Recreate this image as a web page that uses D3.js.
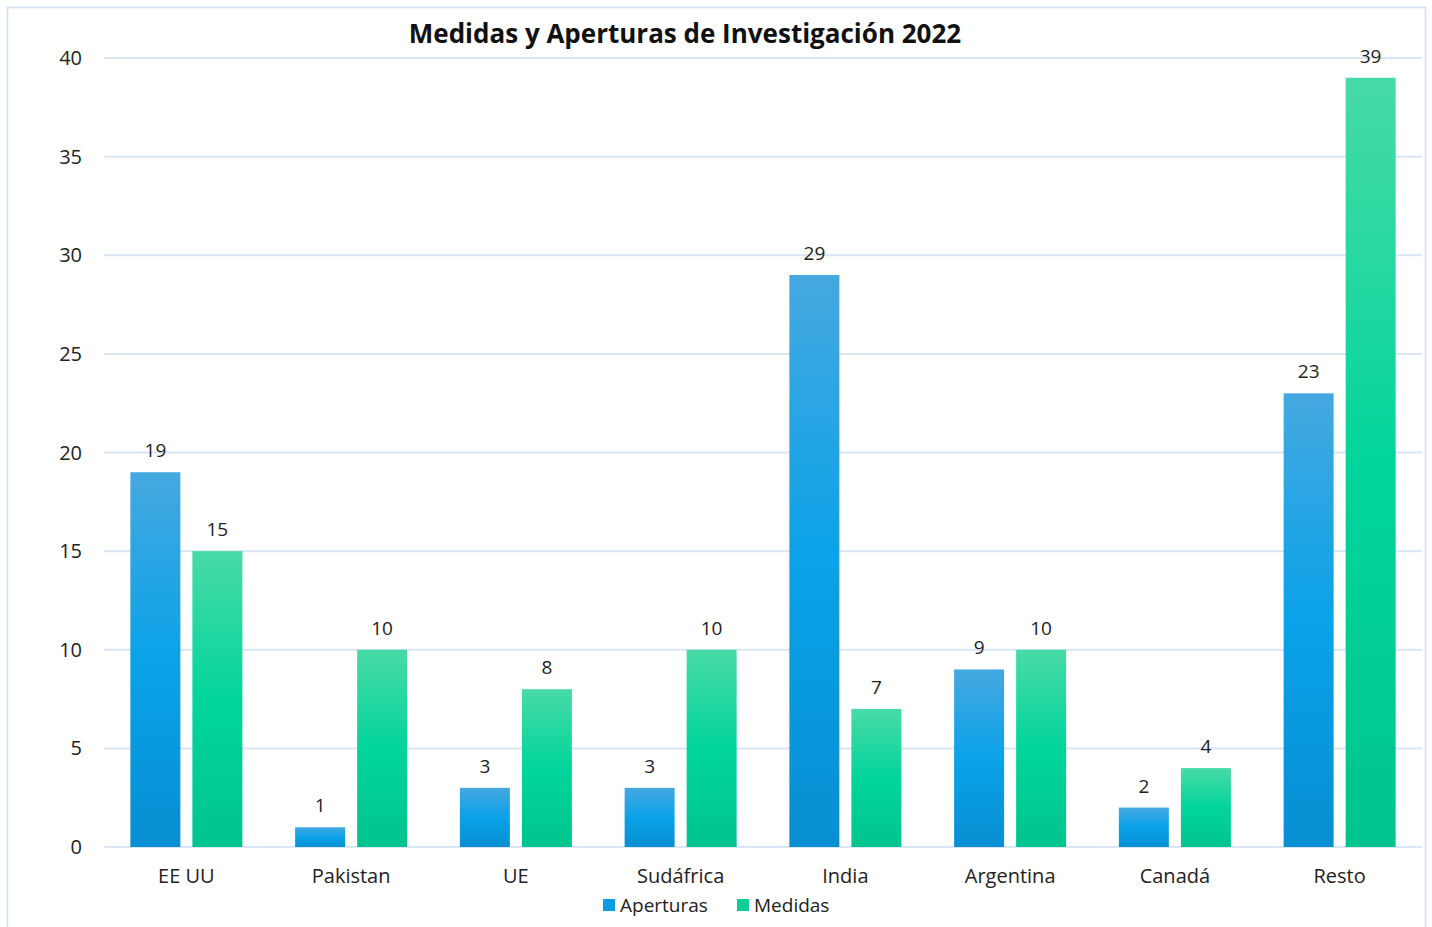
<!DOCTYPE html>
<html>
<head>
<meta charset="utf-8">
<script src="https://cdn.jsdelivr.net/npm/d3@7"></script>
<style>
  body { margin: 0; background: #fff; font-family: "Open Sans", "Noto Sans", sans-serif; }
</style>
</head>
<body>
<div id="chart"></div>
<script>
const categories = ["EE UU", "Pakistan", "UE", "Sudáfrica", "India", "Argentina", "Canadá", "Resto"];
const aperturas = [19, 1, 3, 3, 29, 9, 2, 23];
const medidas = [15, 10, 8, 10, 7, 10, 4, 39];
const seriesNames = ["Aperturas", "Medidas"];
const yTicks = [0, 5, 10, 15, 20, 25, 30, 35, 40];

const W = 1432, H = 927;
const margin = {top: 58, left: 104, right: 10, bottom: 80};
const width = 1422 - margin.left,
    height = 847 - margin.top;

const svg = d3.select("#chart").append("svg")
    .attr("width", W).attr("height", H);

const defs = svg.append("defs");
const grads = [
    {id: "gBlue", stops: ["#45a8e0", "#0aa2e8", "#078fd2"]},
    {id: "gGreen", stops: ["#48daa6", "#02d59b", "#00c48e"]}
];
grads.forEach(g => {
    const lg = defs.append("linearGradient").attr("id", g.id)
        .attr("x1", 0).attr("y1", 0).attr("x2", 0).attr("y2", 1);
    lg.append("stop").attr("offset", "0%").attr("stop-color", g.stops[0]);
    lg.append("stop").attr("offset", "50%").attr("stop-color", g.stops[1]);
    lg.append("stop").attr("offset", "100%").attr("stop-color", g.stops[2]);
});
const fills = ["url(#gBlue)", "url(#gGreen)"];
const legendColors = ["#0a9de3", "#0dcf95"];

// outer frame
svg.append("rect")
    .attr("x", 7.5).attr("y", 7.5).attr("width", 1418).attr("height", 930)
    .attr("fill", "none").attr("stroke", "#d0e0f5").attr("stroke-width", 1.5);

const gr = svg.append("g")
    .attr("transform", "translate(" + margin.left + "," + margin.top + ")");

const xScale = d3.scaleBand().domain(categories).range([0, width]);
const xInner = d3.scaleBand().domain(seriesNames).range([-56, 56]).paddingInner(0.194);
const yScale = d3.scaleLinear().domain([0, 40]).range([height, 0]);

// gridlines
gr.selectAll(".grid").data(yTicks).enter().append("line")
    .attr("x1", 0).attr("x2", width)
    .attr("y1", d => yScale(d)).attr("y2", d => yScale(d))
    .attr("stroke", "#d9e6f6").attr("stroke-width", 2);

// y labels
gr.selectAll(".ylab").data(yTicks).enter().append("text")
    .attr("x", -22).attr("y", d => yScale(d))
    .attr("dy", "0.35em")
    .attr("text-anchor", "end")
    .attr("font-size", 20).attr("fill", "#222")
    .text(d => d);

// bars
const data = categories.map((c, i) => ({cat: c, vals: [aperturas[i], medidas[i]]}));
const groups = gr.selectAll(".cat").data(data).enter().append("g")
    .attr("transform", d => "translate(" + (xScale(d.cat) + xScale.bandwidth() / 2) + ",0)");

groups.selectAll("rect").data(d => d.vals.map((v, j) => ({v, s: seriesNames[j], j})))
    .enter().append("rect")
    .attr("x", d => xInner(d.s))
    .attr("width", xInner.bandwidth())
    .attr("y", d => yScale(d.v))
    .attr("height", d => height - yScale(d.v))
    .attr("fill", d => fills[d.j]);

groups.selectAll(".val").data(d => d.vals.map((v, j) => ({v, s: seriesNames[j], j})))
    .enter().append("text")
    .attr("x", d => xInner(d.s) + xInner.bandwidth() / 2)
    .attr("y", d => yScale(d.v) - 15)
    .attr("text-anchor", "middle")
    .attr("font-size", 19).attr("fill", "#222")
    .text(d => d.v);

// x labels
groups.append("text")
    .attr("x", 0).attr("y", height + 36)
    .attr("text-anchor", "middle")
    .attr("font-size", 20).attr("fill", "#222")
    .text(d => d.cat);

// title
svg.append("text")
    .attr("x", 685).attr("y", 43)
    .attr("text-anchor", "middle")
    .attr("font-size", 26).attr("font-weight", "bold").attr("fill", "#111")
    .text("Medidas y Aperturas de Investigación 2022");

// legend
const legend = svg.append("g").attr("transform", "translate(603,905)");
const legX = [0, 134];
seriesNames.forEach((s, i) => {
    const lg = legend.append("g").attr("transform", "translate(" + legX[i] + ",0)");
    lg.append("rect").attr("x", 0).attr("y", -6).attr("width", 12).attr("height", 12)
        .attr("fill", legendColors[i]);
    lg.append("text").attr("x", 17).attr("y", 0).attr("dy", "0.35em")
        .attr("font-size", 19).attr("fill", "#222").text(s);
});
</script>
</body>
</html>
